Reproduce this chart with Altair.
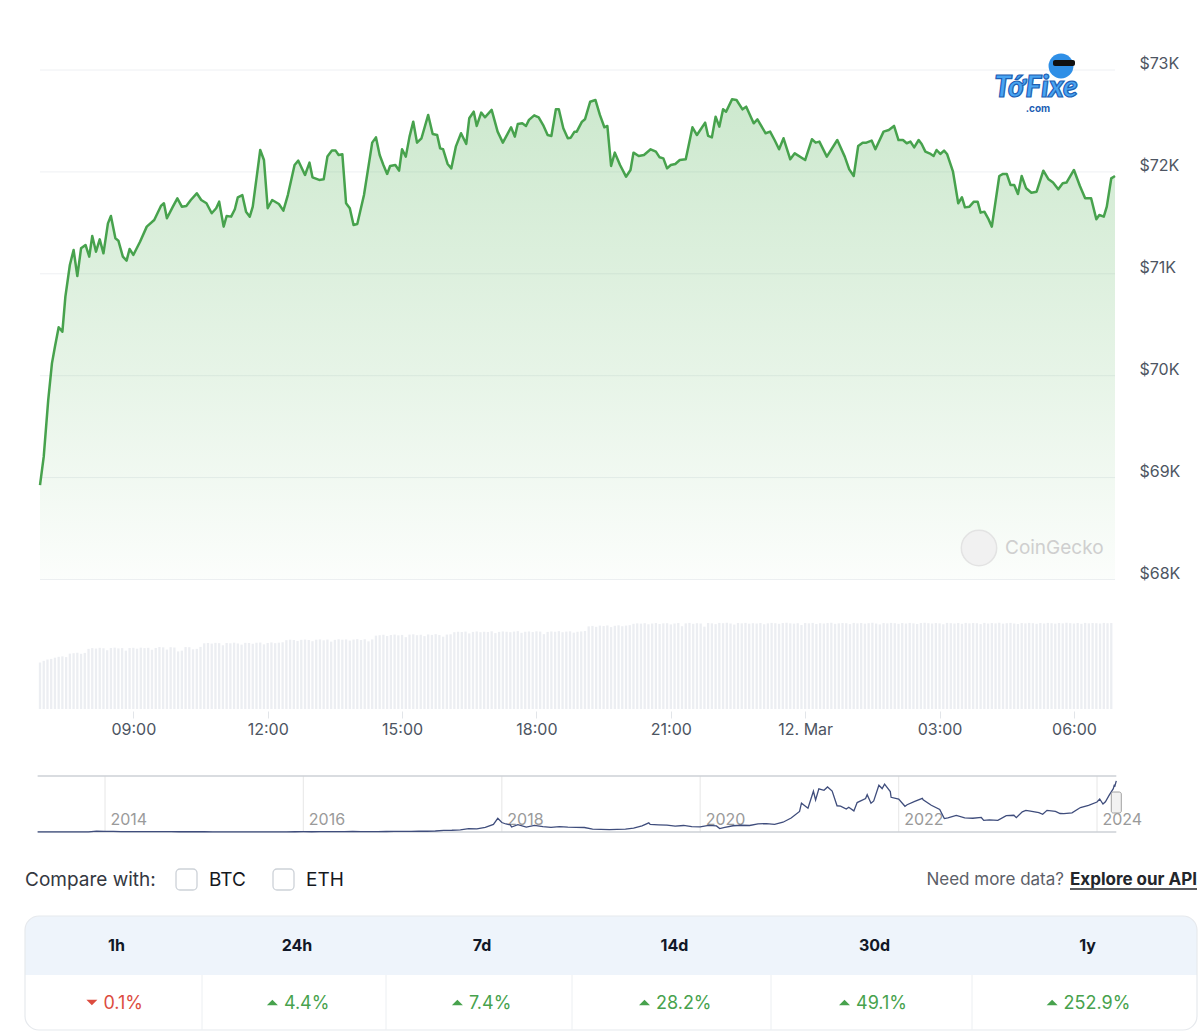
import altair as alt
import pandas as pd

W, H = 1200, 1033

# ---------------------------------------------------------------------------
# 24h BTC/USD price: minutes after the window start (11 Mar 2024, 06:55)
# ---------------------------------------------------------------------------
price_minutes = [
    0, 5, 11, 16, 20, 25, 30, 34, 40, 45, 50, 55, 61, 66, 70, 75, 80, 85, 91, 95,
    101, 105, 111, 116, 120, 125, 134, 143, 153, 162, 166, 170, 178, 184, 190, 196, 202, 210, 216, 223,
    230, 236, 240, 246, 250, 256, 261, 265, 271, 276, 281, 285, 295, 300, 305, 311, 320, 326, 332, 341,
    346, 355, 361, 365, 374, 380, 385, 391, 396, 400, 405, 410, 415, 420, 425, 434, 445, 450, 455, 460,
    465, 469, 476, 481, 485, 490, 495, 500, 505, 511, 520, 526, 532, 536, 540, 546, 551, 557, 564, 571,
    575, 581, 585, 591, 596, 605, 613, 620, 631, 636, 640, 646, 651, 655, 662, 668, 674, 680, 685, 691,
    695, 701, 707, 711, 716, 719, 726, 730, 737, 744, 750, 756, 760, 765, 770, 777, 785, 791, 795, 802,
    809, 818, 825, 830, 835, 840, 845, 851, 857, 865, 874, 880, 891, 895, 900, 905, 910, 915, 919, 927,
    933, 941, 946, 956, 961, 972, 978, 984, 990, 996, 1005, 1011, 1025, 1034, 1039, 1044, 1054, 1068, 1078, 1084,
    1090, 1096, 1102, 1107, 1114, 1119, 1130, 1137, 1144, 1150, 1156, 1161, 1166, 1171, 1177, 1181, 1186, 1193, 1197, 1201,
    1206, 1211, 1215, 1223, 1230, 1235, 1239, 1245, 1251, 1256, 1260, 1265, 1270, 1275, 1285, 1290, 1295, 1300, 1305, 1310,
    1315, 1321, 1328, 1335, 1344, 1351, 1357, 1364, 1370, 1375, 1385, 1393, 1400, 1408, 1415, 1419, 1425, 1429, 1435, 1440,
]
price_usd = [
    68927, 69205, 69761, 70121, 70285, 70475, 70432, 70776, 71086, 71234, 70978, 71250, 71283, 71168, 71371, 71217, 71338, 71201, 71495, 71567,
    71348, 71325, 71168, 71129, 71244, 71185, 71315, 71463, 71528, 71666, 71692, 71545, 71659, 71741, 71659, 71666, 71724, 71790, 71724, 71692,
    71594, 71643, 71708, 71463, 71567, 71561, 71633, 71751, 71773, 71610, 71561, 71659, 72215, 72117, 71643, 71724, 71685, 71620, 71773, 72068,
    72110, 71970, 72091, 71947, 71921, 71927, 72150, 72209, 72209, 72166, 72173, 71692, 71643, 71479, 71489, 71773, 72287, 72339, 72166, 72068,
    71980, 72058, 72068, 72012, 72222, 72150, 72346, 72493, 72287, 72330, 72559, 72372, 72362, 72231, 72222, 72078, 72035, 72248, 72379, 72274,
    72526, 72591, 72451, 72582, 72536, 72608, 72395, 72287, 72438, 72346, 72470, 72477, 72451, 72510, 72555, 72536, 72460, 72362, 72353, 72614,
    72614, 72428, 72330, 72336, 72395, 72395, 72493, 72516, 72689, 72706, 72559, 72438, 72451, 72058, 72189, 72068, 71953, 72019, 72189, 72156,
    72166, 72222, 72199, 72143, 72133, 72035, 72068, 72078, 72117, 72124, 72438, 72362, 72483, 72353, 72339, 72542, 72444, 72614, 72591, 72712,
    72706, 72614, 72640, 72477, 72516, 72379, 72395, 72313, 72222, 72330, 72124, 72182, 72117, 72320, 72287, 72297, 72150, 72313, 72150, 72025,
    71960, 72254, 72287, 72287, 72307, 72222, 72395, 72411, 72451, 72313, 72313, 72281, 72297, 72241, 72313, 72274, 72199, 72176, 72156, 72215,
    72176, 72209, 72176, 72002, 71692, 71751, 71652, 71659, 71708, 71708, 71600, 71610, 71545, 71463, 71960, 71980, 71980, 71872, 71872, 71783,
    71960, 71839, 71796, 71806, 72012, 71927, 71895, 71829, 71888, 71895, 72019, 71862, 71741, 71741, 71535, 71577, 71561, 71659, 71937, 71960,
]

# 24h traded volume (USD bn), one bar per 5-minute step
volume_usd_bn = [
    31.0, 32.1, 33.0, 33.4, 34.2, 34.8, 35.1, 34.6, 36.9, 37.2, 37.5, 36.8, 37.4, 40.1, 40.6, 40.3, 40.8, 40.5, 39.2, 40.7, 40.9, 40.4, 40.6, 38.9,
    40.7, 40.8, 40.2, 40.9, 40.6, 40.8, 39.5, 40.7, 41.3, 41.1, 39.6, 41.2, 41.0, 38.4, 38.9, 41.3, 41.2, 39.8, 40.1, 41.4, 43.8, 44.0, 43.6, 44.1,
    43.9, 42.5, 44.0, 43.8, 44.2, 43.7, 42.9, 44.1, 44.0, 43.5, 44.2, 44.3, 43.1, 44.0, 44.4, 43.9, 44.2, 44.5, 45.9, 46.2, 46.0, 45.3, 46.1, 46.3,
    46.0, 45.2, 46.2, 46.4, 45.8, 46.3, 44.9, 46.1, 46.5, 46.2, 46.4, 45.6, 46.3, 46.6, 46.0, 46.5, 45.1, 46.4, 48.9, 49.2, 49.5, 48.7, 49.3, 49.6,
    49.1, 49.4, 47.9, 49.6, 49.8, 49.2, 49.5, 48.6, 49.7, 49.4, 49.9, 49.3, 48.2, 49.6, 49.8, 51.2, 51.5, 51.3, 51.6, 50.4, 51.4, 51.7, 51.2, 51.5,
    51.3, 51.8, 50.6, 51.4, 51.7, 51.5, 51.2, 51.6, 51.9, 50.8, 51.5, 51.7, 51.3, 51.8, 51.6, 49.9, 51.4, 51.7, 51.5, 51.9, 51.2, 51.6, 51.8, 50.9,
    51.5, 51.7, 52.0, 55.1, 55.4, 54.8, 55.6, 55.3, 55.7, 54.6, 55.5, 55.8, 55.2, 55.6, 55.9, 56.8, 57.1, 56.9, 57.2, 56.5, 57.0, 57.3, 56.7, 57.1,
    57.2, 56.4, 57.0, 57.3, 55.2, 57.1, 57.4, 56.8, 57.2, 57.0, 54.9, 57.3, 57.1, 56.6, 57.4, 57.2, 57.5, 57.0, 56.3, 57.3, 57.1, 57.4, 56.9, 57.2,
    57.0, 57.3, 56.5, 57.1, 57.4, 57.2, 56.8, 57.3, 57.5, 57.1, 56.9, 57.2, 56.0, 57.3, 57.1, 57.4, 56.7, 57.2, 57.0, 57.3, 57.5, 56.8, 57.1, 57.3,
    57.2, 56.6, 57.4, 57.1, 57.3, 56.9, 57.2, 57.5, 57.0, 56.4, 57.3, 57.1, 57.4, 57.2, 56.8, 57.3, 57.0, 57.4, 57.1, 56.7, 57.3, 57.5, 57.2, 57.0,
    57.3, 57.1, 56.5, 57.4, 57.2, 57.0, 57.3, 56.8, 57.4, 57.1, 57.3, 57.2, 56.6, 57.4, 57.0, 57.3, 57.1, 57.5, 56.9, 57.2, 57.4, 57.0, 56.7, 57.3,
    57.1, 57.4, 57.2, 56.8, 57.3, 57.0, 57.4, 57.2, 56.9, 57.3, 57.1, 57.5, 57.2, 57.0, 57.3, 56.8, 57.4, 57.1, 57.3, 57.2, 57.0, 57.4, 57.2, 57.3,
]

# All-time price history shown in the navigator strip (USD)
history_dates = [
    "2013-04-28", "2013-06-01", "2013-07-01", "2013-08-01", "2013-09-01", "2013-10-01", "2013-11-01", "2013-12-01",
    "2014-01-01", "2014-02-01", "2014-03-01", "2014-04-01", "2014-05-01", "2014-06-01", "2014-07-01", "2014-08-01",
    "2014-09-01", "2014-10-01", "2014-11-01", "2014-12-01",
    "2015-01-01", "2015-02-01", "2015-03-01", "2015-04-01", "2015-05-01", "2015-06-01", "2015-07-01", "2015-08-01",
    "2015-09-01", "2015-10-01", "2015-11-01", "2015-12-01",
    "2016-01-01", "2016-02-01", "2016-03-01", "2016-04-01", "2016-05-01", "2016-06-01", "2016-07-01", "2016-08-01",
    "2016-09-01", "2016-10-01", "2016-11-01", "2016-12-01",
    "2017-01-01", "2017-02-01", "2017-03-01", "2017-04-01", "2017-05-01", "2017-06-01", "2017-07-01", "2017-08-01",
    "2017-09-01", "2017-10-01", "2017-11-01", "2017-12-01", "2017-12-17",
    "2018-01-01", "2018-01-16", "2018-02-01", "2018-02-06", "2018-03-01", "2018-04-01", "2018-05-01", "2018-06-01",
    "2018-07-01", "2018-08-01", "2018-09-01", "2018-10-01", "2018-11-01", "2018-12-01",
    "2019-01-01", "2019-02-01", "2019-03-01", "2019-04-01", "2019-05-01", "2019-06-01", "2019-06-26", "2019-07-01",
    "2019-08-01", "2019-09-01", "2019-10-01", "2019-11-01", "2019-12-01",
    "2020-01-01", "2020-02-01", "2020-03-01", "2020-03-13", "2020-04-01", "2020-05-01", "2020-06-01", "2020-07-01",
    "2020-08-01", "2020-09-01", "2020-10-01", "2020-11-01", "2020-12-01",
    "2021-01-01", "2021-01-08", "2021-02-01", "2021-02-21", "2021-03-01", "2021-03-13", "2021-04-01", "2021-04-14",
    "2021-05-01", "2021-05-19", "2021-06-01", "2021-06-22", "2021-07-01", "2021-07-20", "2021-08-01", "2021-09-01",
    "2021-09-07", "2021-09-21", "2021-10-01", "2021-10-20", "2021-11-01", "2021-11-10", "2021-12-01", "2021-12-04",
    "2022-01-01", "2022-01-24", "2022-02-01", "2022-03-01", "2022-03-29", "2022-04-01", "2022-05-01", "2022-06-01",
    "2022-06-18", "2022-07-01", "2022-08-01", "2022-09-01", "2022-10-01", "2022-11-01", "2022-11-10", "2022-12-01",
    "2023-01-01", "2023-02-01", "2023-03-01", "2023-03-10", "2023-04-01", "2023-04-14", "2023-05-01", "2023-06-01",
    "2023-06-15", "2023-07-01", "2023-08-01", "2023-08-18", "2023-09-01", "2023-10-01", "2023-11-01", "2023-12-01",
    "2024-01-01", "2024-01-11", "2024-01-23", "2024-02-01", "2024-02-15", "2024-03-01", "2024-03-05", "2024-03-06",
    "2024-03-12",
]
history_usd = [
    135, 129, 97, 106, 140, 125, 204, 1100,
    755, 830, 560, 460, 450, 630, 640, 580,
    480, 385, 338, 378,
    320, 220, 255, 245, 235, 225, 260, 280,
    230, 238, 315, 378,
    430, 372, 435, 416, 450, 535, 675, 620,
    572, 610, 700, 750,
    998, 985, 1190, 1080, 1420, 2400, 2500, 2870,
    4740, 4340, 6450, 10800, 19300,
    13400, 11300, 10100, 7000, 10300, 6900, 9200, 7500,
    6400, 7700, 7000, 6600, 6350, 4100,
    3740, 3450, 3840, 4110, 5320, 8600, 12900, 10800,
    10100, 9600, 8300, 9200, 7500,
    7200, 9350, 8600, 4900, 6400, 8800, 9500, 9150,
    11350, 11900, 10800, 13800, 19700,
    29000, 40600, 33500, 57500, 45200, 61000, 58800, 63500,
    57800, 37000, 36600, 32500, 35000, 29800, 41500, 47100,
    52700, 40700, 43800, 66000, 61300, 67600, 57000, 49000,
    46300, 36300, 38500, 43200, 47500, 45500, 37700, 31800,
    19000, 19900, 23300, 20000, 19400, 20500, 16500, 17200,
    16500, 23100, 23600, 20200, 28500, 30400, 29300, 27200,
    25000, 30500, 29200, 26100, 26000, 27000, 34500, 37700,
    42300, 46600, 39500, 42600, 52000, 61200, 66800, 63800,
    72100,
]

# Axis levels and ticks
price_levels = [68000, 69000, 70000, 71000, 72000, 73000]
time_ticks = ["2024-03-11 09:00", "2024-03-11 12:00", "2024-03-11 15:00", "2024-03-11 18:00",
              "2024-03-11 21:00", "2024-03-12 00:00", "2024-03-12 03:00", "2024-03-12 06:00"]
nav_years = [2014, 2016, 2018, 2020, 2022, 2024]

# Price performance table
periods = ["1h", "24h", "7d", "14d", "30d", "1y"]
changes_pct = [-0.1, 4.4, 7.4, 28.2, 49.1, 252.9]

# ---------------------------------------------------------------------------
START = pd.Timestamp("2024-03-11 06:55")
END = START + pd.Timedelta(minutes=1440)

GREEN = "#47a24d"
RED = "#dc4c3f"
AXIS_GRAY = "#4d5562"
FONT = "Inter"


def dt(ts):
    ts = pd.Timestamp(ts)
    return alt.DateTime(year=ts.year, month=ts.month, date=ts.day,
                        hours=ts.hour, minutes=ts.minute)


time_scale = alt.Scale(domain=[dt(START), dt(END)], range=[40, 1115], nice=False, padding=0)
price_scale = alt.Scale(domain=[68000, 73000], range=[579.5, 70], nice=False, zero=False)
vol_scale = alt.Scale(domain=[0, 60], range=[709, 619], nice=False, zero=False, padding=0)
nav_x_scale = alt.Scale(domain=[alt.DateTime(year=2014, month=1, date=1),
                                alt.DateTime(year=2024, month=1, date=1)],
                        range=[105, 1097], nice=False, padding=0)
nav_y_scale = alt.Scale(domain=[0, 79000], range=[832, 776], nice=False, zero=False, padding=0)
pix_x = alt.Scale(domain=[0, W], range=[0, W], nice=False, zero=False, padding=0)
pix_y = alt.Scale(domain=[0, H], range=[0, H], nice=False, zero=False, padding=0)

price_df = pd.DataFrame({
    "time": START + pd.to_timedelta(price_minutes, unit="min"),
    "price": price_usd,
})
vol_df = pd.DataFrame({
    "time": [START + pd.Timedelta(minutes=5 * i) for i in range(len(volume_usd_bn))],
    "vol": volume_usd_bn,
})
hist_df = pd.DataFrame({"date": pd.to_datetime(history_dates), "usd": history_usd})

layers = []

# --- price panel -----------------------------------------------------------
grid_df = pd.DataFrame({"level": price_levels, "t0": START, "t1": END})
layers.append(
    alt.Chart(grid_df).mark_rule(color="#eef0f3", strokeWidth=1).encode(
        x=alt.X("t0:T", scale=time_scale, axis=None),
        x2="t1:T",
        y=alt.Y("level:Q", scale=price_scale, axis=alt.Axis(
            orient="right", offset=-70, values=price_levels, domain=False,
            ticks=False, tickSize=0, grid=False, labelPadding=9,
            labelFont=FONT, labelFontSize=16, labelColor=AXIS_GRAY,
            labelAlign="left", labelBaseline="middle", labelOffset=-6.5,
            labelFlush=False, labelOverlap=False, title=None,
            labelExpr="'$' + format(datum.value / 1000, 'd') + 'K'")),
    )
)

fill = alt.Gradient(
    gradient="linear",
    stops=[alt.GradientStop(color="rgba(76,175,80,0.28)", offset=0),
           alt.GradientStop(color="rgba(76,175,80,0.13)", offset=0.6),
           alt.GradientStop(color="rgba(76,175,80,0.02)", offset=1)],
    x1=1, x2=1, y1=0, y2=1,
)
layers.append(
    alt.Chart(price_df).mark_area(color=fill).encode(
        x=alt.X("time:T", scale=time_scale, axis=None),
        y=alt.Y("price:Q", scale=price_scale, axis=None),
        y2=alt.datum(68000),
    )
)
layers.append(
    alt.Chart(price_df).mark_line(color=GREEN, strokeWidth=2.5, strokeJoin="round").encode(
        x=alt.X("time:T", scale=time_scale, axis=None),
        y=alt.Y("price:Q", scale=price_scale, axis=None),
    )
)

# --- volume bars + time axis ----------------------------------------------
layers.append(
    alt.Chart(vol_df).mark_bar(color="#eceef2", width=2.3).encode(
        x=alt.X("time:T", scale=time_scale, axis=alt.Axis(
            orient="bottom", offset=-322, values=[dt(t) for t in time_ticks],
            domain=False, ticks=True, tickSize=7, tickColor="#e2e5e9", grid=False,
            labelPadding=3, labelFont=FONT, labelFontSize=16, labelColor=AXIS_GRAY,
            labelFlush=False, labelOverlap=False, title=None,
            labelExpr="hours(datum.value) == 0 ? timeFormat(datum.value, '%-d. %b') "
                      ": timeFormat(datum.value, '%H:%M')")),
        y=alt.Y("vol:Q", scale=vol_scale, axis=None),
    )
)

# --- navigator -------------------------------------------------------------
year_df = pd.DataFrame({
    "date": pd.to_datetime([f"{y}-01-01" for y in nav_years]),
    "lo": 0, "hi": 79000,
})
layers.append(
    alt.Chart(year_df).mark_rule(color="#e6e6e6", strokeWidth=1).encode(
        x=alt.X("date:T", scale=nav_x_scale, axis=alt.Axis(
            orient="bottom", offset=-222, values=[alt.DateTime(year=y, month=1, date=1) for y in nav_years],
            format="%Y", domain=False, ticks=False, tickSize=0, grid=False,
            labelPadding=0, labelAlign="left", labelBaseline="top", labelOffset=5,
            labelFont=FONT, labelFontSize=16, labelColor="#9a9a9a",
            labelFlush=False, labelOverlap=False, title=None)),
        y=alt.Y("lo:Q", scale=nav_y_scale, axis=None),
        y2="hi:Q",
    )
)
frame_df = pd.DataFrame({
    "t0": pd.to_datetime(history_dates[0]), "t1": pd.to_datetime(history_dates[-1]),
    "level": [0, 79000],
})
layers.append(
    alt.Chart(frame_df).mark_rule(color="#cdd1d6", strokeWidth=1.5).encode(
        x=alt.X("t0:T", scale=nav_x_scale, axis=None),
        x2="t1:T",
        y=alt.Y("level:Q", scale=nav_y_scale, axis=None),
    )
)
layers.append(
    alt.Chart(hist_df).mark_line(color="#3f4d7c", strokeWidth=1.3).encode(
        x=alt.X("date:T", scale=nav_x_scale, axis=None),
        y=alt.Y("usd:Q", scale=nav_y_scale, axis=None),
    )
)
handle_df = pd.DataFrame({"date": pd.to_datetime([history_dates[-1]]), "lo": [26800], "hi": [56400]})
layers.append(
    alt.Chart(handle_df).mark_bar(width=10, color="#f2f2f2", stroke="#a0a0a0",
                                  strokeWidth=1, cornerRadius=2).encode(
        x=alt.X("date:T", scale=nav_x_scale, axis=None),
        y=alt.Y("lo:Q", scale=nav_y_scale, axis=None),
        y2="hi:Q",
    )
)


# --- page furniture (pixel coordinates) -----------------------------------
def px_rect(df, **mark):
    return alt.Chart(df).mark_rect(**mark).encode(
        x=alt.X("x0:Q", scale=pix_x, axis=None), x2="x1:Q",
        y=alt.Y("y0:Q", scale=pix_y, axis=None), y2="y1:Q",
    )


def px_rule(df, **mark):
    return alt.Chart(df).mark_rule(**mark).encode(
        x=alt.X("x0:Q", scale=pix_x, axis=None), x2="x1:Q",
        y=alt.Y("y0:Q", scale=pix_y, axis=None), y2="y1:Q",
        color=alt.Color("color:N", scale=None),
    )


def px_text(df, align="left", weight="normal", font=FONT, **mark):
    return alt.Chart(df).mark_text(align=align, baseline="middle", font=font,
                                   fontWeight=weight, **mark).encode(
        x=alt.X("x:Q", scale=pix_x, axis=None),
        y=alt.Y("y:Q", scale=pix_y, axis=None),
        text="label:N",
        color=alt.Color("color:N", scale=None),
        size=alt.Size("fs:Q", scale=None),
    )


def px_point(df, **mark):
    return alt.Chart(df).mark_point(**mark).encode(
        x=alt.X("x:Q", scale=pix_x, axis=None),
        y=alt.Y("y:Q", scale=pix_y, axis=None),
    )


# CoinGecko watermark inside the price panel
layers.append(px_point(pd.DataFrame({"x": [979], "y": [548]}),
                       shape="circle", filled=True, size=1250, color="#f1f1f1",
                       stroke="#e3e3e3", strokeWidth=1.5, opacity=1))
layers.append(px_text(pd.DataFrame({"x": [1005], "y": [548], "label": ["CoinGecko"],
                                    "color": ["#cfcfcf"], "fs": [19]})))

# site logo, top right: mascot behind the wordmark
layers.append(px_point(pd.DataFrame({"x": [1061], "y": [66]}),
                       shape="circle", filled=True, size=620, color="#2f8fe6", opacity=1))
layers.append(px_rect(pd.DataFrame({"x0": [1053], "x1": [1075], "y0": [60], "y1": [66]}),
                      color="#111111", cornerRadius=2))
layers.append(
    alt.Chart(pd.DataFrame({"x": [1036], "y": [88], "label": ["TớFixe"]})).mark_text(
        align="center", baseline="middle", font="Lato", fontWeight=900, fontSize=30,
        fontStyle="italic", color="#48a4f2", stroke="#1d5fb4", strokeWidth=1.2).encode(
        x=alt.X("x:Q", scale=pix_x, axis=None),
        y=alt.Y("y:Q", scale=pix_y, axis=None),
        text="label:N",
    )
)
layers.append(px_text(pd.DataFrame({"x": [1038], "y": [109], "label": [".com"],
                                    "color": ["#1d5fb4"], "fs": [10]}),
                      align="center", weight="bold"))

# compare row
box_df = pd.DataFrame({"x0": [176, 273], "x1": [197, 294], "y0": [869, 869], "y1": [890, 890]})
layers.append(px_rect(box_df, color="#ffffff", stroke="#cdd2d8", strokeWidth=1.3, cornerRadius=4))
layers.append(px_text(pd.DataFrame({
    "x": [25, 209, 306], "y": [880, 880, 880],
    "label": ["Compare with:", "BTC", "ETH"],
    "color": ["#34383f", "#15181d", "#15181d"], "fs": [19, 19, 19],
})))
layers.append(px_text(pd.DataFrame({"x": [1064], "y": [880], "label": ["Need more data?"],
                                    "color": ["#5c6068"], "fs": [17]}), align="right"))
layers.append(px_text(pd.DataFrame({"x": [1070], "y": [880], "label": ["Explore our API"],
                                    "color": ["#23262b"], "fs": [17]}), weight="bold"))
layers.append(px_rule(pd.DataFrame({"x0": [1070], "x1": [1197], "y0": [889], "y1": [889],
                                    "color": ["#23262b"]}), strokeWidth=1.3))

# performance table
col_edges = [25, 202, 386, 572, 771, 972, 1197]
TOP, MID, BOT = 916, 975, 1030
layers.append(px_rect(pd.DataFrame({"x0": [25], "x1": [1197], "y0": [TOP], "y1": [BOT]}),
                      color="#ffffff", cornerRadius=14))
layers.append(px_rect(pd.DataFrame({"x0": [25], "x1": [1197], "y0": [TOP], "y1": [MID]}),
                      color="#eef4fb", cornerRadiusTopLeft=14, cornerRadiusTopRight=14))
layers.append(px_rect(pd.DataFrame({"x0": [25], "x1": [1197], "y0": [TOP], "y1": [BOT]}),
                      fillOpacity=0, stroke="#e6e9ed", strokeWidth=1.2, cornerRadius=14))
layers.append(px_rule(pd.DataFrame({"x0": col_edges[1:-1], "x1": col_edges[1:-1],
                                    "y0": MID, "y1": BOT, "color": "#eceff2"}), strokeWidth=1))

centers = [(a + b) / 2 + 3 for a, b in zip(col_edges[:-1], col_edges[1:])]
layers.append(px_text(pd.DataFrame({"x": centers, "y": 946, "label": periods,
                                    "color": "#111827", "fs": 16}),
                      align="center", weight="bold"))

val_rows, tri_up, tri_down = [], [], []
for c, pct in zip(centers, changes_pct):
    label = f"{abs(pct):.1f}%"
    group_w = 17 + len(label) * 10.8
    left = c - group_w / 2
    color = GREEN if pct >= 0 else RED
    val_rows.append({"x": left + 17, "y": 1003.5, "label": label, "color": color, "fs": 18})
    (tri_up if pct >= 0 else tri_down).append({"x": left + 5.5, "y": 1002.5})

layers.append(px_text(pd.DataFrame(val_rows)))
layers.append(px_point(pd.DataFrame(tri_up), shape="M-1,0.5L1,0.5L0,-0.5Z", size=121,
                       filled=True, color=GREEN, opacity=1))
layers.append(px_point(pd.DataFrame(tri_down), shape="M-1,-0.5L1,-0.5L0,0.5Z", size=121,
                       filled=True, color=RED, opacity=1))

chart = (
    alt.layer(*layers)
    .resolve_scale(x="independent", y="independent")
    .properties(width=W, height=H, padding=0, background="white",
                autosize=alt.AutoSizeParams(type="none"))
    .configure_view(stroke=None)
)

chart.save("out.html", embed_options={"renderer": "svg", "actions": False})
